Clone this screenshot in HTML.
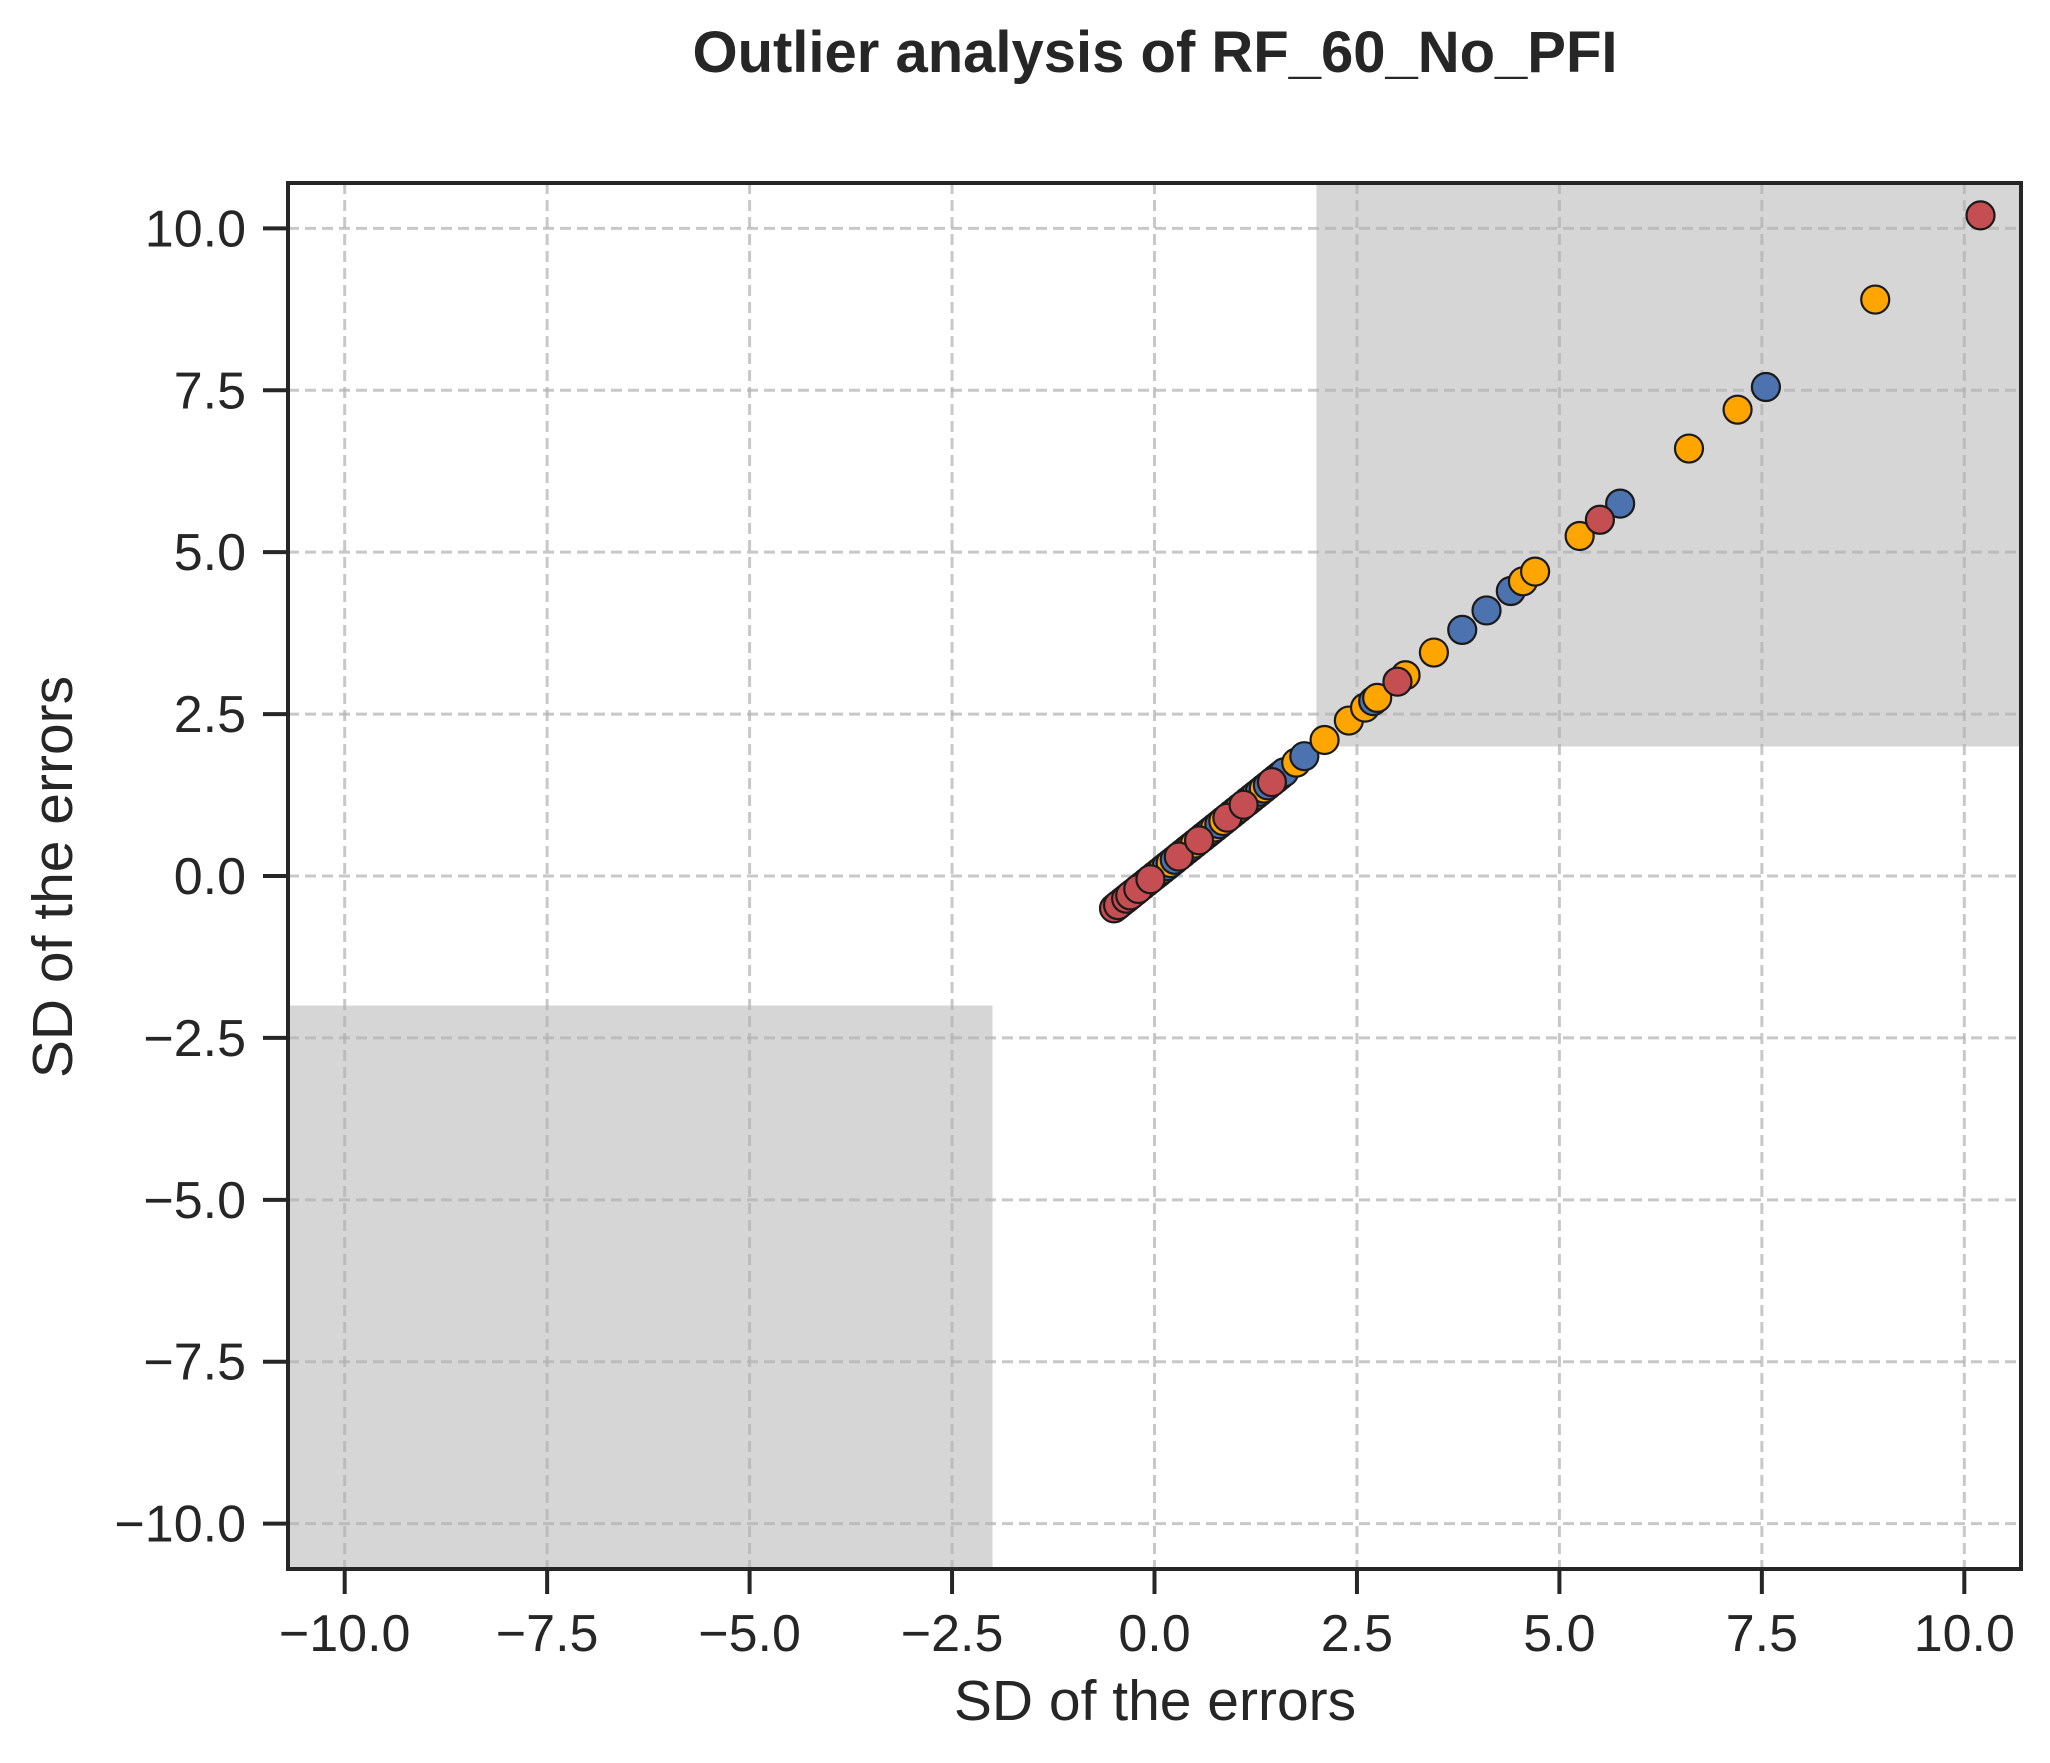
<!DOCTYPE html>
<html><head><meta charset="utf-8"><style>
html,body{margin:0;padding:0;background:#fff;}
svg{display:block;font-family:"Liberation Sans",Arial,sans-serif;}
</style></head><body>
<svg id="chart" width="2050" height="1763" viewBox="0 0 2050 1763" xmlns="http://www.w3.org/2000/svg">
<rect width="2050" height="1763" fill="#fff"/>
<text x="1155" y="72" text-anchor="middle" font-size="58" font-weight="bold" fill="#262626">Outlier analysis of RF_60_No_PFI</text>
<g id="shade"></g><g id="grid"></g><g id="pts"></g><g id="axes"></g>
<text x="1155" y="1720" text-anchor="middle" font-size="57" fill="#262626">SD of the errors</text>
<text transform="translate(72,877) rotate(-90)" text-anchor="middle" font-size="57" fill="#262626">SD of the errors</text>
</svg>
<script>
const xTicks=[-10,-7.5,-5,-2.5,0,2.5,5,7.5,10];
const yTicks=[-10,-7.5,-5,-2.5,0,2.5,5,7.5,10];
const tickLabels=["\u221210.0","\u22127.5","\u22125.0","\u22122.5","0.0","2.5","5.0","7.5","10.0"];
const domain=[-10.7,10.7];
const threshold=2;
const ptValues=[-0.47,-0.44,-0.4,-0.36,-0.32,-0.28,-0.24,-0.15,-0.1,0,0.05,0.1,0.15,0.2,0.25,0.35,0.4,0.45,0.5,0.6,0.65,0.7,0.75,0.8,0.85,0.95,1.0,1.05,1.15,1.2,1.25,1.3,1.35,1.4,1.5,1.55,1.6,1.75,1.85,2.1,2.4,2.6,2.7,2.75,3.1,3.45,3.8,4.1,4.4,4.55,4.7,5.25,6.6,7.2,7.55,8.9,5.75,5.5,3.0,-0.5,-0.45,-0.35,-0.3,-0.2,-0.05,0.3,0.55,0.9,1.1,1.45,10.2];
const ptGroups=["b","b","o","b","o","b","o","o","o","o","b","o","b","o","b","b","o","b","o","b","o","b","o","b","o","o","b","o","o","b","o","b","o","b","o","o","b","o","b","o","o","o","b","o","o","o","b","b","b","o","o","o","o","o","b","o","b","r","r","r","r","r","r","r","r","r","r","r","r","r","r"];
const colors={b:"#4c72b0",o:"#ffa500",r:"#c44e52"};
const L=288,R=2021,T=183,B=1569;
const sx=v=>L+(v-domain[0])/(domain[1]-domain[0])*(R-L);
const sy=v=>B-(v-domain[0])/(domain[1]-domain[0])*(B-T);
const NS="http://www.w3.org/2000/svg";
function mk(tag,parent,attrs){const e=document.createElementNS(NS,tag);for(const k in attrs)e.setAttribute(k,attrs[k]);document.getElementById(parent).appendChild(e);return e;}
let s1=mk("rect","shade",{x:sx(threshold),y:T,width:R-sx(threshold),height:sy(threshold)-T,fill:"#d6d6d6"});


let s2=mk("rect","shade",{x:L,y:sy(-threshold),width:sx(-threshold)-L,height:B-sy(-threshold),fill:"#d6d6d6"});


xTicks.forEach((v,i)=>{
 let g=mk("line","grid",{x1:sx(v),x2:sx(v),y1:T,y2:B,stroke:"#b0b0b0","stroke-opacity":0.7,"stroke-width":3,"stroke-dasharray":"11,6"});
 
 
 mk("line","axes",{x1:sx(v),x2:sx(v),y1:B,y2:B+25,stroke:"#262626","stroke-width":4});
 let t=mk("text","axes",{x:sx(v),y:B+82,"text-anchor":"middle","font-size":52,fill:"#262626"});
 t.textContent=tickLabels[i];
 
 
});
yTicks.forEach((v,i)=>{
 let g=mk("line","grid",{x1:L,x2:R,y1:sy(v),y2:sy(v),stroke:"#b0b0b0","stroke-opacity":0.7,"stroke-width":3,"stroke-dasharray":"11,6"});
 
 
 mk("line","axes",{x1:L-25,x2:L,y1:sy(v),y2:sy(v),stroke:"#262626","stroke-width":4});
 let t=mk("text","axes",{x:L-42,y:sy(v)+18,"text-anchor":"end","font-size":52,fill:"#262626"});
 t.textContent=tickLabels[i];
 
 
});
ptValues.forEach((v,i)=>{
 let c=mk("circle","pts",{cx:sx(v),cy:sy(v),r:14,fill:colors[ptGroups[i]],stroke:"#1a1a1a","stroke-width":2.2});
 
 
});
let fr=mk("rect","axes",{x:L,y:T,width:R-L,height:B-T,fill:"none",stroke:"#262626","stroke-width":4});


</script>
</body></html>
